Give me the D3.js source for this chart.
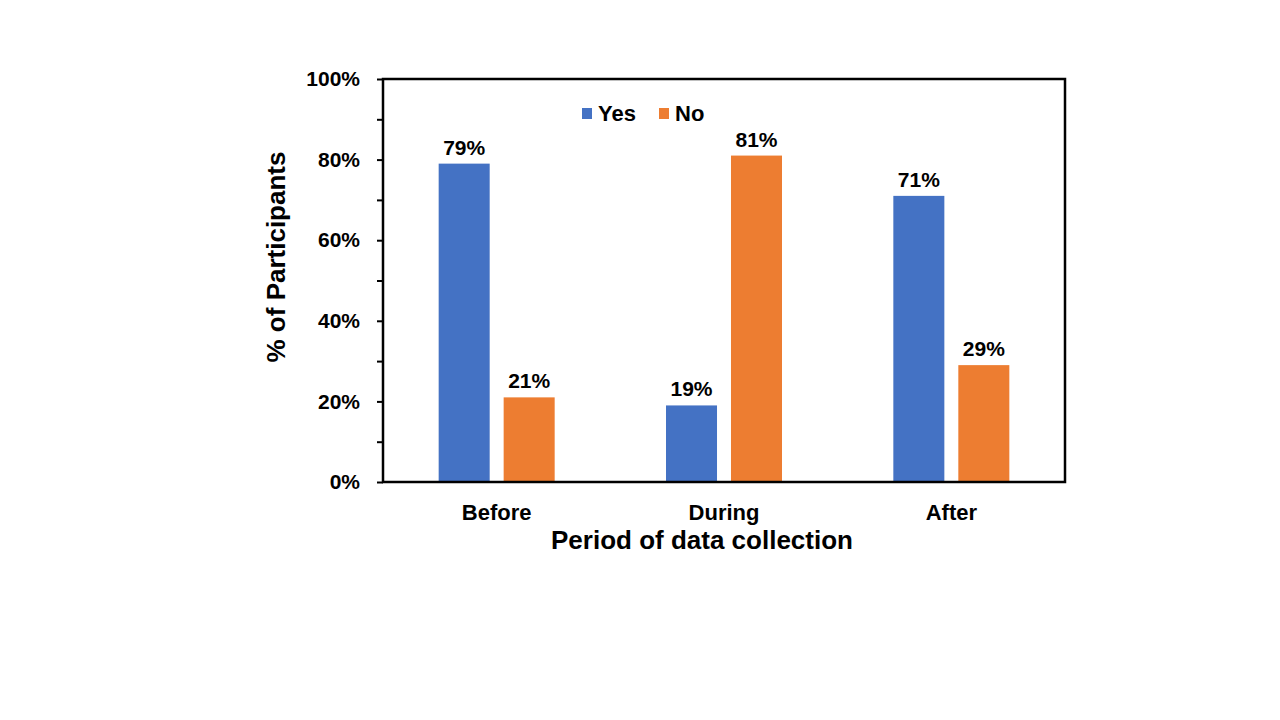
<!DOCTYPE html>
<html>
<head>
<meta charset="utf-8">
<script src="https://cdn.jsdelivr.net/npm/d3@7"></script>
<style>
  body { margin: 0; background: #fff; }
  text { font-family: Arial, "Liberation Sans", sans-serif; font-weight: bold; fill: #000; }
</style>
</head>
<body>
<svg id="chart" width="1280" height="720"></svg>
<script>
// data
const periods = ['Before', 'During', 'After'];
const seriesNames = ['Yes', 'No'];
const yesValues = [79, 19, 71];
const noValues = [21, 81, 29];
const yTicks = [0, 20, 40, 60, 80, 100];
const colors = ['#4472C4', '#ED7D31'];

const svg = d3.select('#chart');
const m = { left: 383, right: 1065, top: 79, bottom: 482 };
const font = 'Arial, "Liberation Sans", sans-serif';

const x = d3.scaleBand().domain(periods).range([m.left, m.right]);
const mid = x.bandwidth() / 2;
const xSub = d3.scaleBand().domain(seriesNames).range([mid - 58, mid + 58]).paddingInner(0.215);
const y = d3.scaleLinear().domain([0, 100]).range([m.bottom, m.top]);

// minor ticks every 10%
svg.append('g')
  .attr('transform', `translate(${m.left},0)`)
  .call(d3.axisLeft(y).tickValues(d3.range(0, 101, 10)).tickSize(6).tickFormat(''))
  .call(g => g.select('.domain').remove())
  .selectAll('line').attr('stroke', '#000').attr('stroke-width', 2);

// y axis labels
svg.append('g')
  .attr('transform', `translate(${m.left},0)`)
  .call(d3.axisLeft(y).tickValues(yTicks).tickSize(0).tickPadding(23).tickFormat(d => d + '%'))
  .call(g => g.select('.domain').remove())
  .selectAll('text')
  .style('font-size', '21px').style('font-family', font)
  .style('font-weight', 'bold').attr('fill', '#000');

// x axis labels
svg.append('g')
  .attr('transform', `translate(0,${m.bottom})`)
  .call(d3.axisBottom(x).tickSize(0).tickPadding(22))
  .call(g => g.select('.domain').remove())
  .selectAll('text')
  .style('font-size', '22px').style('font-family', font)
  .style('font-weight', 'bold').attr('fill', '#000');

// bars
const rows = periods.map((p, i) => ({ period: p, values: [yesValues[i], noValues[i]] }));
const groups = svg.append('g').selectAll('g')
  .data(rows).join('g')
  .attr('transform', d => `translate(${x(d.period)},0)`);

groups.selectAll('rect')
  .data(d => d.values.map((v, j) => ({ key: seriesNames[j], v, j })))
  .join('rect')
  .attr('x', d => xSub(d.key))
  .attr('width', xSub.bandwidth())
  .attr('y', d => y(d.v))
  .attr('height', d => y(0) - y(d.v))
  .attr('fill', d => colors[d.j]);

groups.selectAll('text.val')
  .data(d => d.values.map((v, j) => ({ key: seriesNames[j], v })))
  .join('text')
  .attr('class', 'val')
  .attr('x', d => xSub(d.key) + xSub.bandwidth() / 2)
  .attr('y', d => y(d.v) - 9)
  .attr('text-anchor', 'middle')
  .style('font-size', '21px')
  .text(d => d.v + '%');

// frame
svg.append('rect')
  .attr('x', m.left).attr('y', m.top)
  .attr('width', m.right - m.left).attr('height', m.bottom - m.top)
  .attr('fill', 'none').attr('stroke', '#000').attr('stroke-width', 2.5);

// legend
const legend = svg.append('g').attr('transform', 'translate(582,108)');
const legendX = [0, 77];
seriesNames.forEach((s, i) => {
  legend.append('rect').attr('x', legendX[i]).attr('y', 0).attr('width', 10).attr('height', 11).attr('fill', colors[i]);
  legend.append('text').attr('x', legendX[i] + 16).attr('y', 13).style('font-size', '22px').text(s);
});

// axis titles
svg.append('text')
  .attr('transform', 'translate(285,257) rotate(-90)')
  .attr('text-anchor', 'middle')
  .style('font-size', '26px')
  .text('% of Participants');

svg.append('text')
  .attr('x', 702).attr('y', 549)
  .attr('text-anchor', 'middle')
  .style('font-size', '26px')
  .text('Period of data collection');
</script>
</body>
</html>
